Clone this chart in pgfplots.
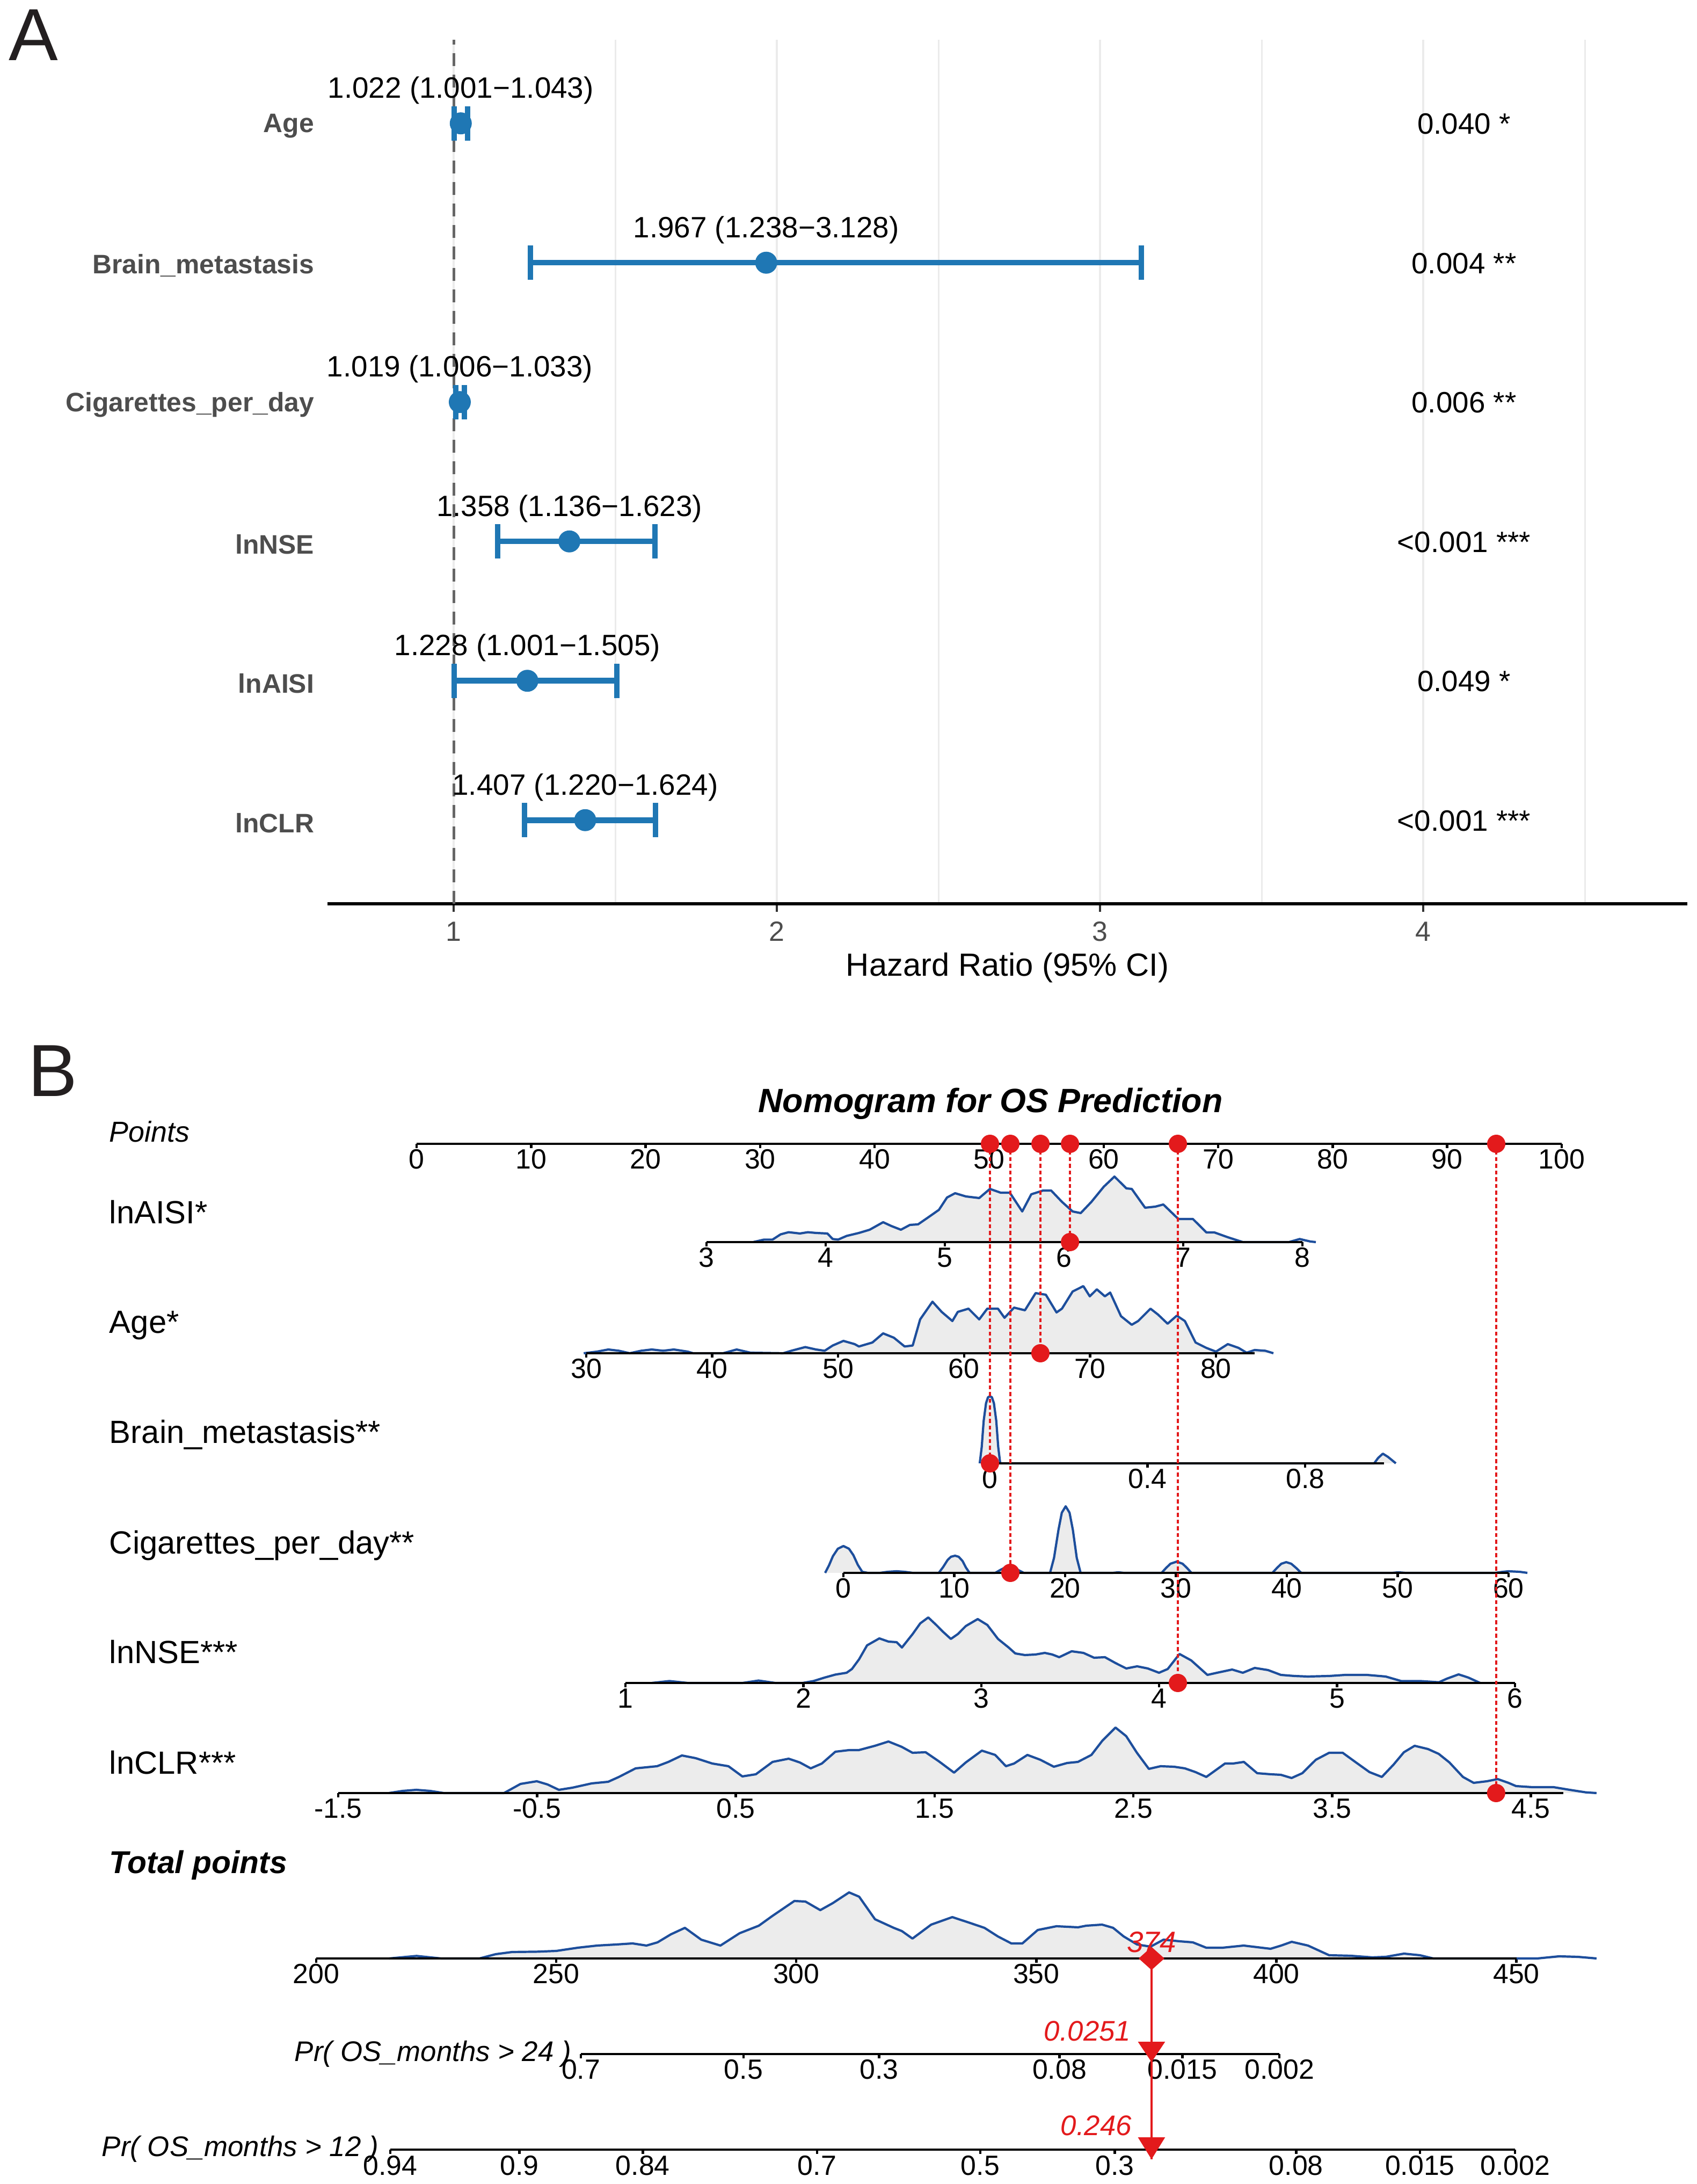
\documentclass[border=0pt]{standalone}
\usepackage{pgfplots}
\pgfplotsset{compat=1.18}
\usepackage{pgfplotstable}
\usepackage{fontspec}
\setmainfont{Liberation Sans}

\definecolor{hrblue}{HTML}{1F77B4}
\definecolor{refgray}{HTML}{666666}
\definecolor{gridgray}{HTML}{EBEBEB}
\definecolor{labgray}{HTML}{4D4D4D}
\definecolor{tickgray}{HTML}{333333}
\definecolor{densbluec}{HTML}{1D4E9C}
\definecolor{densfillc}{HTML}{ECECEC}
\definecolor{nomred}{HTML}{E31A1C}
\definecolor{letter}{HTML}{231F20}

\newcommand{\fs}[1]{\fontsize{#1}{#1}\selectfont}

% forest plot: row, HR, lower, upper
\pgfplotstableread{
y hr lo hi
6 1.022 1.001 1.043
5 1.967 1.238 3.128
4 1.019 1.006 1.033
3 1.358 1.136 1.623
2 1.228 1.001 1.505
1 1.407 1.220 1.624
}\forestdata

% nomogram densities: value, height (px above the scale line)
\pgfplotstableread{
x h
3.392 0
3.482 4.6
3.554 4.6
3.622 14.4
3.689 18.4
3.784 16
3.851 18.4
3.919 17
4.014 16
4.059 5.7
4.104 4.6
4.176 11.5
4.279 17
4.369 23
4.482 37
4.550 30
4.631 23
4.707 32
4.775 33
4.860 46
4.950 60
5.018 83
5.086 91
5.176 85
5.288 82
5.378 99
5.468 92
5.545 92
5.649 57
5.725 89
5.824 96
5.892 96
5.982 75
6.072 57
6.140 54
6.230 75
6.333 103
6.423 122
6.523 100
6.568 99
6.680 64
6.766 66
6.833 70
6.959 43
7.081 43
7.194 18
7.261 18
7.374 9
7.500 0
7.887 0
7.977 5.7
8.068 1
8.113 0
}\aisi

\pgfplotstableread{
x h
29.8 0
30.85 3
31.75 7
32.60 4.6
33.45 0
34.35 4.6
35.20 7
36.10 4.6
36.95 7
38.06 3
38.48 0
40.87 0
41.94 7
43.04 1
45.64 0
46.28 4.6
47.39 11.5
48.24 7
48.93 4.6
49.57 14.4
50.42 23
51.31 17
51.65 12.6
52.72 20
53.57 37
54.42 29
55.28 12.6
55.92 14.4
56.51 63
57.49 96
58.22 77
59.07 60
59.50 77
60.35 83
61.20 63
61.84 83
62.69 83
63.21 66
63.97 85
64.83 80
65.68 112
66.49 109
67.34 76
67.77 83
68.62 115
69.47 125
69.98 106
70.54 119
71.18 106
71.60 113
72.46 69
73.31 53
73.82 60
74.80 83
75.40 72
76.16 55
76.89 70
77.53 60
78.38 20
79.23 10
80.00 3
80.94 17
81.79 10
82.43 1
83.07 6
83.92 4.6
84.56 0
}\age

\pgfplotstableread{
x h
-0.026 0
-0.021 30
-0.016 79
-0.010 112
-0.005 123
0 125
0.005 123
0.010 112
0.016 79
0.021 30
0.026 0
0.975 0
0.985 10
0.997 18
1.010 12
1.030 0
}\brain

\pgfplotstableread{
x h
-1.65 0
-1.3 14
-0.95 31
-0.5 45
0 50
0.5 45
0.9 33
1.3 15
1.7 2
2.2 0
3.3 0
4.0 2
4.8 3
5.5 2
6.25 0
8.6 0
9.0 11
9.4 24
9.7 30
10.07 32
10.4 30
10.75 22
11.05 10
11.38 0
13.7 0
14.2 6
14.6 10
15.06 11
15.4 10
15.8 5
16.27 0
18.64 0
19.0 28
19.4 80
19.7 112
20.05 124
20.4 112
20.7 80
21.05 28
21.4 0
24.3 0
24.8 1
25.3 0
28.7 0
29.1 9
29.5 17
30.07 21
30.6 17
31.0 9
31.4 0
38.7 0
39.1 9
39.5 17
39.95 20
40.4 17
40.85 9
41.3 0
49.5 0
50.07 1
50.7 0
58.8 0
59.5 2
60.0 3
61.0 2
61.7 0
}\cig

\pgfplotstableread{
x h
1.148 0
1.247 3.6
1.350 0
1.658 0
1.748 4.5
1.842 0
1.996 0
2.057 3.6
2.119 10
2.180 15.6
2.243 19
2.273 26
2.313 44
2.358 70
2.427 83
2.479 77
2.524 76
2.554 66
2.614 91
2.657 111
2.702 122
2.747 108
2.786 95
2.829 82
2.868 91
2.913 106
2.980 119
3.034 108
3.094 82
3.154 66
3.191 55
3.245 52
3.305 53
3.357 56
3.399 53
3.438 48
3.508 59
3.574 56
3.634 47
3.695 48
3.755 37
3.815 27
3.876 31
3.936 27
3.999 19
4.048 26
4.114 54
4.180 42
4.271 15
4.325 19
4.410 25
4.470 19
4.537 28
4.612 24
4.684 15
4.760 13
4.835 12
4.956 13
5.046 15
5.167 15
5.273 12
5.360 3.6
5.466 3.6
5.572 1.3
5.617 8
5.683 16
5.738 10
5.804 0
}\nse

\pgfplotstableread{
x h
-1.245 0
-1.176 4
-1.107 6
-1.038 4
-0.969 0
-0.666 0
-0.583 17
-0.501 22
-0.447 16
-0.390 6
-0.322 10
-0.225 18
-0.142 21
-0.088 30
-0.004 46
0.104 50
0.161 58
0.229 70
0.298 65
0.382 55
0.463 50
0.533 31
0.601 35
0.685 58
0.766 64
0.822 57
0.877 46
0.933 55
1.001 77
1.070 80
1.119 80
1.200 88
1.268 96
1.335 86
1.389 75
1.455 76
1.522 59
1.598 38
1.657 57
1.738 79
1.805 71
1.859 50
1.900 55
1.967 71
2.032 62
2.100 49
2.167 56
2.221 58
2.289 71
2.343 97
2.410 122
2.464 106
2.518 75
2.578 45
2.637 50
2.705 49
2.759 46
2.813 39
2.867 30
2.961 55
3.002 55
3.056 58
3.123 37
3.191 35
3.242 34
3.296 28
3.350 37
3.418 62
3.485 75
3.553 75
3.620 57
3.688 39
3.750 30
3.809 53
3.861 76
3.915 88
3.982 82
4.036 73
4.090 57
4.158 30
4.212 19
4.279 22
4.333 26
4.387 19
4.425 13
4.506 11
4.614 11
4.695 6
4.776 1.3
4.830 0
}\clr

\pgfplotstableread{
x h
215.2 0
220.9 4.7
226.0 0
234.0 0
237.4 8
240.8 12
246.0 12.6
250.0 14
254.5 20
258.5 24
262.5 26
265.9 28
268.8 24
271.1 30
273.9 45
276.8 57
280.2 35
284.2 24
288.2 47
292.2 61
295.0 79
299.6 107
301.9 106
305.0 90
307.6 103
311.0 123
313.1 115
316.4 73
320.3 57
322.0 51
324.2 37
328.1 63
332.5 77
335.9 67
339.2 57
342.0 41
344.8 28
347.1 28
350.3 53
354.2 60
358.7 58
360.4 61
363.7 63
366.0 57
368.2 41
371.0 26
373.8 22
376.5 35
379.8 32
382.6 30
385.4 20
388.8 20
393.2 24
398.8 18
401.0 24
403.2 31
406.6 24
411.0 6
415.5 5
420.0 2
422.8 3
426.6 9
429.9 6
432.7 0
454.4 0
458.9 4
462.8 3
466.7 0
}\total

\pgfplotsset{
  dfill/.style={draw=none, fill=densfillc},
  dline/.style={densbluec, line width=0.42bp, line join=round},
  baseln/.style={black, line width=0.45bp},
  guide/.style={nomred, mark=none, line width=0.33bp, dash pattern=on 0.75bp off 0.5bp},
  reddot/.style={only marks, mark=*, mark size=1.5bp, color=nomred, mark options={draw=none, fill=nomred}},
  whisker/.style={only marks, mark=*, mark size=0pt, mark options={draw=none, fill=none}},
  nomrow/.style={
    scale only axis, clip=false, anchor=south west,
    ymin=0, ymax=125, height=12.5bp, enlargelimits=false,
    axis x line=bottom, axis y line=none, ytick=\empty,
    x axis line style={-, black, line width=0.45bp},
    tick align=outside, major tick length=0.8bp,
    xtick style={black, line width=0.45bp},
    xticklabel style={font=\fs{5.2}, anchor=base, inner sep=0pt, yshift=-3.9bp},
  },
}

\begin{document}
\begin{tikzpicture}
\useasboundingbox (0,0) rectangle (316.1bp,406.7bp);

\node[anchor=base west, inner sep=0pt, font=\fs{13.8}, text=letter] at (1.5bp,395.4bp) {A};
\node[anchor=base west, inner sep=0pt, font=\fs{13.8}, text=letter] at (5.1bp,202.5bp) {B};

% ---------------- panel A: forest plot
\begin{axis}[
  at={(61bp,238.4bp)}, anchor=south west, scale only axis,
  width=253.3bp, height=160.9bp,
  xmin=0.6096, xmax=4.817, ymin=0.4, ymax=6.6,
  enlargelimits=false, clip=false,
  axis x line=bottom, axis y line=left,
  x axis line style={-, black, line width=0.6bp},
  y axis line style={draw=none},
  tick align=outside,
  xtick={1,2,3,4}, xticklabels={1,2,3,4},
  minor xtick={1.5,2.5,3.5,4.5},
  xmajorgrids, xminorgrids,
  major grid style={gridgray, line width=0.45bp},
  minor grid style={gridgray, line width=0.3bp},
  major tick length=1.5bp, minor tick length=0pt,
  xtick style={tickgray, line width=0.45bp},
  ytick style={draw=none},
  ytick={1,2,3,4,5,6},
  yticklabels={lnCLR,lnAISI,lnNSE,Cigarettes\_per\_day,Brain\_metastasis,Age},
  xticklabel style={font=\fs{5.2}, text=labgray, anchor=base, inner sep=0pt, yshift=-5.5bp},
  yticklabel style={font=\fs{5}\bfseries, text=labgray, anchor=east, inner sep=0pt, xshift=-0.8bp, yshift=-0.5bp},
  xlabel={Hazard Ratio (95\% CI)},
  xlabel style={font=\fs{6}, at={(axis description cs:0.5,0)}, anchor=base, inner sep=0pt, yshift=-13.5bp},
]
\addplot [refgray, line width=0.5bp, dash pattern=on 2.4bp off 1.6bp] coordinates {(1,0.4) (1,6.6)};
\addplot [whisker, error bars/.cd, x dir=both, x explicit, error mark=none,
  error bar style={hrblue, solid, line width=1.05bp}]
  table [x=hr, y=y, x error plus expr=\thisrow{hi}-\thisrow{hr}, x error minus expr=\thisrow{hr}-\thisrow{lo}] {\forestdata};
\addplot [whisker, error bars/.cd, y dir=both, y fixed=0.123, error mark=none,
  error bar style={hrblue, solid, line width=1.0bp}]
  table [x=lo, y=y] {\forestdata};
\addplot [whisker, error bars/.cd, y dir=both, y fixed=0.123, error mark=none,
  error bar style={hrblue, solid, line width=1.0bp}]
  table [x=hi, y=y] {\forestdata};
\addplot [only marks, mark=*, mark size=1.85bp, color=hrblue, mark options={draw=none, fill=hrblue}]
  table [x=hr, y=y] {\forestdata};
\begin{scope}[every node/.style={font=\fs{5.5}, anchor=base, inner sep=0pt}]
\node at (axis cs:1.022,6.181) {1.022 (1.001−1.043)};
\node at (axis cs:1.967,5.181) {1.967 (1.238−3.128)};
\node at (axis cs:1.019,4.181) {1.019 (1.006−1.033)};
\node at (axis cs:1.358,3.181) {1.358 (1.136−1.623)};
\node at (axis cs:1.228,2.181) {1.228 (1.001−1.505)};
\node at (axis cs:1.407,1.181) {1.407 (1.220−1.624)};
\node at (axis cs:4.126,5.923) {0.040 *};
\node at (axis cs:4.126,4.923) {0.004 **};
\node at (axis cs:4.126,3.923) {0.006 **};
\node at (axis cs:4.126,2.923) {<0.001 ***};
\node at (axis cs:4.126,1.923) {0.049 *};
\node at (axis cs:4.126,0.923) {<0.001 ***};
\end{scope}
\end{axis}

% ---------------- panel B: nomogram
\node[anchor=base, inner sep=0pt, font=\fs{6.3}\bfseries\itshape] at (184.5bp,199.5bp) {Nomogram for OS Prediction};
\begin{scope}[every node/.style={anchor=base west, inner sep=0pt, font=\fs{6}}]
\node[font=\fs{5.4}\itshape] at (20.2bp,194.0bp) {Points};
\node at (20.2bp,178.8bp) {lnAISI*};
\node at (20.2bp,158.4bp) {Age*};
\node at (20.2bp,137.9bp) {Brain\_metastasis**};
\node at (20.2bp,117.3bp) {Cigarettes\_per\_day**};
\node at (20.2bp,96.9bp) {lnNSE***};
\node at (20.2bp,76.3bp) {lnCLR***};
\node[font=\fs{5.9}\bfseries\itshape] at (20.2bp,57.8bp) {Total points};
\end{scope}
\node[anchor=base east, inner sep=0pt, font=\fs{5.3}\itshape] at (106.6bp,22.9bp) {Pr( OS\_months > 24 )};
\node[anchor=base east, inner sep=0pt, font=\fs{5.3}\itshape] at (70.7bp,5.2bp) {Pr( OS\_months > 12 )};

% Points
\begin{axis}[nomrow, at={(77.6bp,193.7bp)}, width=213.3bp, xmin=0, xmax=100,
  xtick={0,10,20,30,40,50,60,70,80,90,100}, xticklabels={0,10,20,30,40,50,60,70,80,90,100}]
\addplot [baseln] coordinates {(0,0) (100,0)};
\end{axis}

% lnAISI
\begin{axis}[nomrow, at={(131.6bp,175.4bp)}, width=111.0bp, xmin=3, xmax=8,
  xtick={3,4,5,6,7,8}, xticklabels={3,4,5,6,7,8}]
\addplot [dfill] table [x=x, y=h] {\aisi} \closedcycle;
\addplot [dline] table [x=x, y=h] {\aisi};
\addplot [baseln] coordinates {(3,0) (8,0)};
\addplot [reddot] coordinates {(6.05,0)};
\end{axis}

% Age
\begin{axis}[nomrow, at={(109.2bp,154.7bp)}, width=124.5bp, xmin=30, xmax=83.07,
  xtick={30,40,50,60,70,80}, xticklabels={30,40,50,60,70,80}]
\addplot [dfill] table [x=x, y=h] {\age} \closedcycle;
\addplot [dline] table [x=x, y=h] {\age};
\addplot [baseln] coordinates {(30,0) (83.07,0)};
\addplot [reddot] coordinates {(66.06,0)};
\end{axis}

% Brain metastasis
\begin{axis}[nomrow, at={(184.4bp,134.2bp)}, width=73.4bp, xmin=0, xmax=1,
  xtick={0,0.4,0.8}, xticklabels={0,0.4,0.8}]
\addplot [dfill] table [x=x, y=h] {\brain} \closedcycle;
\addplot [dline] table [x=x, y=h] {\brain};
\addplot [baseln] coordinates {(0,0) (1,0)};
\addplot [reddot] coordinates {(0,0)};
\end{axis}

% Cigarettes per day
\begin{axis}[nomrow, at={(157.1bp,113.8bp)}, width=123.9bp, xmin=0, xmax=60,
  xtick={0,10,20,30,40,50,60}, xticklabels={0,10,20,30,40,50,60}]
\addplot [dfill] table [x=x, y=h] {\cig} \closedcycle;
\addplot [dline] table [x=x, y=h] {\cig};
\addplot [baseln] coordinates {(0,0) (60,0)};
\addplot [reddot] coordinates {(15.06,0)};
\end{axis}

% lnNSE
\begin{axis}[nomrow, at={(116.5bp,93.3bp)}, width=165.7bp, xmin=1, xmax=6,
  xtick={1,2,3,4,5,6}, xticklabels={1,2,3,4,5,6}]
\addplot [dfill] table [x=x, y=h] {\nse} \closedcycle;
\addplot [dline] table [x=x, y=h] {\nse};
\addplot [baseln] coordinates {(1,0) (6,0)};
\addplot [reddot] coordinates {(4.105,0)};
\end{axis}

% lnCLR
\begin{axis}[nomrow, at={(63.0bp,72.8bp)}, width=228.2bp, xmin=-1.5, xmax=4.663,
  xtick={-1.5,-0.5,0.5,1.5,2.5,3.5,4.5}, xticklabels={-1.5,-0.5,0.5,1.5,2.5,3.5,4.5}]
\addplot [dfill] table [x=x, y=h] {\clr} \closedcycle;
\addplot [dline] table [x=x, y=h] {\clr};
\addplot [baseln] coordinates {(-1.5,0) (4.663,0)};
\addplot [reddot] coordinates {(4.325,0)};
\end{axis}

% Total points
\begin{axis}[nomrow, at={(58.9bp,42.0bp)}, width=223.55bp, xmin=200, xmax=450,
  xtick={200,250,300,350,400,450}, xticklabels={200,250,300,350,400,450}]
\addplot [dfill] table [x=x, y=h] {\total} \closedcycle;
\addplot [dline] table [x=x, y=h] {\total};
\addplot [baseln] coordinates {(200,0) (450,0)};
\end{axis}

% Pr(OS > 24), ticks at their total-points positions
\begin{axis}[nomrow, at={(108.2bp,24.2bp)}, width=130.1bp, xmin=255.1, xmax=400.6,
  xtick={255.1,288.98,317.2,354.8,380.4,400.6}, xticklabels={0.7,0.5,0.3,0.08,0.015,0.002}]
\addplot [baseln] coordinates {(255.1,0) (400.6,0)};
\end{axis}

% Pr(OS > 12)
\begin{axis}[nomrow, at={(72.7bp,6.4bp)}, width=209.5bp, xmin=215.4, xmax=449.7,
  xtick={215.4,242.3,268.0,304.3,338.3,366.3,404.1,429.9,449.7},
  xticklabels={0.94,0.9,0.84,0.7,0.5,0.3,0.08,0.015,0.002}]
\addplot [baseln] coordinates {(215.4,0) (449.7,0)};
\end{axis}

% overlay in points units: guide lines from each variable to the points scale
\begin{axis}[at={(77.6bp,66.7bp)}, anchor=south west, scale only axis, width=213.3bp, height=130bp,
  xmin=0, xmax=100, ymin=2100, ymax=3400, y dir=reverse, hide axis, clip=false]
\addplot [guide] coordinates {(50.07,2130) (50.07,2725)};
\addplot [guide] coordinates {(51.85,2130) (51.85,2929)};
\addplot [guide] coordinates {(54.48,2130) (54.48,2520)};
\addplot [guide] coordinates {(57.06,2130) (57.06,2313)};
\addplot [guide] coordinates {(66.48,2130) (66.48,3134)};
\addplot [guide] coordinates {(94.28,2130) (94.28,3339)};
\addplot [reddot] coordinates {(50.07,2130) (51.85,2130) (54.48,2130) (57.06,2130) (66.48,2130) (94.28,2130)};
\end{axis}

% overlay in total-points units: prediction arrows
\begin{axis}[at={(58.9bp,0bp)}, anchor=south west, scale only axis, width=223.55bp, height=51.7bp,
  xmin=200, xmax=450, ymin=3550, ymax=4067, y dir=reverse, hide axis, clip=false]
\addplot [nomred, mark=none, line width=0.4bp] coordinates {(374,3647) (374,4021)};
\addplot [fill=nomred, draw=none, mark=none] coordinates {(371.32,3647) (374,3625.5) (376.68,3647) (374,3668.5)} -- cycle;
\addplot [fill=nomred, draw=none, mark=none] coordinates {(371.16,3802) (376.84,3802) (374,3840)} -- cycle;
\addplot [fill=nomred, draw=none, mark=none] coordinates {(371.16,3980) (376.84,3980) (374,4021)} -- cycle;
\node[anchor=base, inner sep=0pt, text=nomred, font=\fs{5.5}\itshape] at (axis cs:374,3635) {374};
\node[anchor=base east, inner sep=0pt, text=nomred, font=\fs{5.3}\itshape] at (axis cs:369.9,3800) {0.0251};
\node[anchor=base east, inner sep=0pt, text=nomred, font=\fs{5.3}\itshape] at (axis cs:370.1,3977) {0.246};
\end{axis}

\end{tikzpicture}
\end{document}
